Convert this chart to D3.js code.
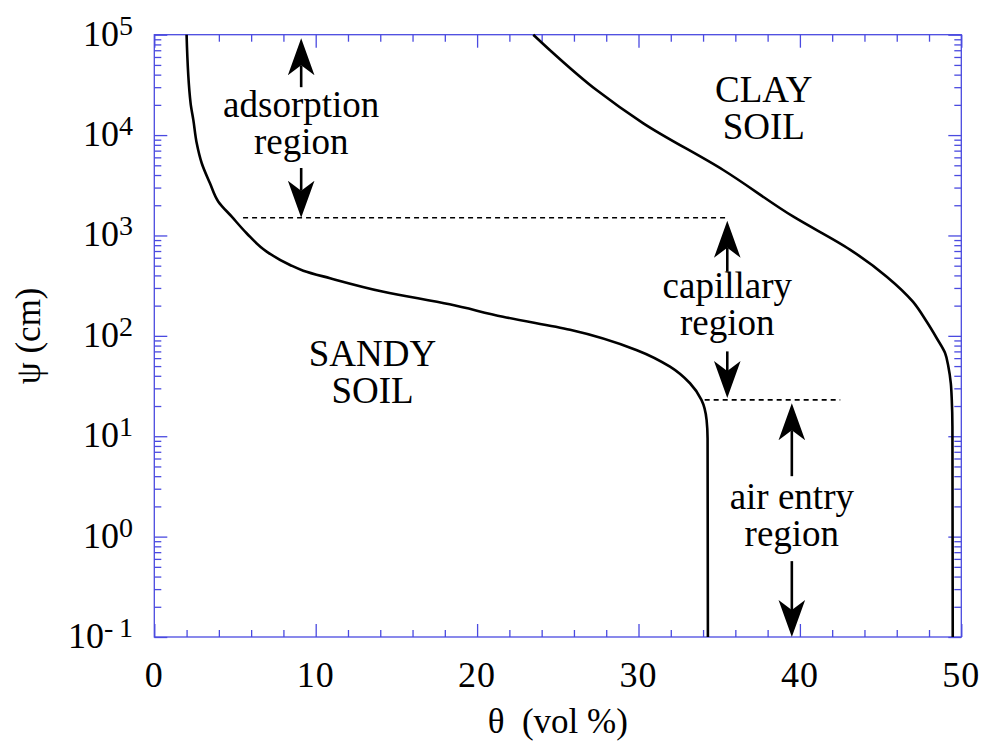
<!DOCTYPE html>
<html><head><meta charset="utf-8">
<script src="https://cdn.jsdelivr.net/npm/d3@7"></script>
<style>
body{margin:0;background:#fff}
</style>
</head><body>
<svg id="chart" width="985" height="745"></svg>
<script>
// ---- data ----
const sandyTheta = [2.0, 2.25, 2.42, 2.63, 2.94, 3.45, 3.97, 4.8, 5.72, 6.96, 8.41, 9.23, 10.89, 14.2, 18.3, 21.6, 25.76, 29.9, 31.95, 33.19, 33.9, 34.22, 34.28, 34.3];
const sandyPsi   = [1e5, 20700, 14100, 8280, 5240, 3310, 2172, 1538, 1052, 690, 508, 446, 375, 275, 206, 155, 115, 72, 49.3, 33.7, 23, 14.5, 9.5, 0.1];
const clayTheta  = [23.48, 24.5, 27.4, 30.3, 35.25, 39.6, 43.1, 45.38, 47.0, 47.86, 48.48, 49.0, 49.2, 49.35, 49.41, 49.45, 49.47];
const clayPsi    = [1e5, 70500, 28100, 13100, 4490, 1538, 724, 389, 219, 138, 94.6, 67.1, 49.3, 33.7, 23, 12.5, 0.1];

const xTickValues = [0, 10, 20, 30, 40, 50];
const yTickExponents = [-1, 0, 1, 2, 3, 4, 5];

// dashed region boundaries
const dashPsi  = [1500, 23];
const dashFrom = [5.5, 34.1];
const dashTo   = [35.5, 42.5];

// arrows (theta, tail psi, tip psi)
const arrowTheta = [9.1, 9.1, 35.5, 35.5, 39.5, 39.5];
const arrowTail  = [30000, 4700, 435, 70, 4.0, 0.57];
const arrowTip   = [92000, 1500, 1400, 24, 21.3, 0.1];

// annotation texts
const noteLines = [["adsorption", "region"], ["capillary", "region"], ["air entry", "region"], ["SANDY", "SOIL"], ["CLAY", "SOIL"]];
const noteTheta = [9.1, 35.5, 39.5, 13.52, 37.76];
const notePsi   = [15240, 237, 1.89, 50.1, 21500];

// ---- pick an installed serif font ----
function pickSerif() {
  const cands = ["Liberation Serif", "Times New Roman", "Tinos", "Times", "Nimbus Roman", "Nimbus Roman No9 L", "FreeSerif", "Noto Serif", "DejaVu Serif", "Bitstream Vera Serif"];
  const c = document.createElement("canvas").getContext("2d");
  const s = "adsorption SANDY 0123456789 region";
  const w = f => { c.font = "40px " + f; return c.measureText(s).width; };
  const wm = w("monospace"), ws = w("sans-serif");
  for (const f of cands) {
    const a = w(`"${f}", monospace`), b = w(`"${f}", sans-serif`);
    if (Math.abs(a - wm) > 0.5 && Math.abs(b - ws) > 0.5) return `"${f}", serif`;
  }
  return "serif";
}
const FONT = pickSerif();

// ---- chart ----
const svg = d3.select("#chart").attr("font-family", FONT).style("font-family", FONT);
const L = 154.3, R = 961.3, T = 34.7, B = 637;
const x = d3.scaleLinear().domain([0, 50]).range([L, R]);
const y = d3.scaleLog().domain([0.1, 1e5]).range([B, T]);
const blue = "#4a4ae0";

// frame
svg.append("rect").attr("x", L).attr("y", T).attr("width", R - L).attr("height", B - T)
  .attr("fill", "none").attr("stroke", blue).attr("stroke-width", 1.3);

// ticks via d3 axes
const xMinor = d3.range(0, 51, 2).filter(v => v % 10 !== 0);
const yMinor = [];
for (let e = -1; e < 5; e++) for (let m = 2; m <= 9; m++) yMinor.push(m * Math.pow(10, e));
const yMajor = yTickExponents.map(e => Math.pow(10, e));

function styleAxis(g) {
  g.select(".domain").remove();
  g.selectAll("line").attr("stroke", blue).attr("stroke-width", 1.3);
  g.selectAll("text").remove();
}
svg.append("g").attr("transform", `translate(0,${B})`).call(d3.axisBottom(x).tickValues(xTickValues).tickSize(-13).tickFormat("")).call(styleAxis);
svg.append("g").attr("transform", `translate(0,${B})`).call(d3.axisBottom(x).tickValues(xMinor).tickSize(-7).tickFormat("")).call(styleAxis);
svg.append("g").attr("transform", `translate(0,${T})`).call(d3.axisTop(x).tickValues(xTickValues).tickSize(-13).tickFormat("")).call(styleAxis);
svg.append("g").attr("transform", `translate(0,${T})`).call(d3.axisTop(x).tickValues(xMinor).tickSize(-7).tickFormat("")).call(styleAxis);
svg.append("g").attr("transform", `translate(${L},0)`).call(d3.axisLeft(y).tickValues(yMajor).tickSize(-13).tickFormat("")).call(styleAxis);
svg.append("g").attr("transform", `translate(${L},0)`).call(d3.axisLeft(y).tickValues(yMinor).tickSize(-7).tickFormat("")).call(styleAxis);
svg.append("g").attr("transform", `translate(${R},0)`).call(d3.axisRight(y).tickValues(yMajor).tickSize(-13).tickFormat("")).call(styleAxis);
svg.append("g").attr("transform", `translate(${R},0)`).call(d3.axisRight(y).tickValues(yMinor).tickSize(-7).tickFormat("")).call(styleAxis);

// tick labels
svg.append("g").selectAll("text").data(xTickValues).join("text")
  .attr("x", d => x(d)).attr("y", 687).attr("text-anchor", "middle")
  .attr("font-size", 36).style("letter-spacing", "1px").text(d => d);

const yl = svg.append("g").selectAll("text").data(yTickExponents).join("text")
  .attr("x", 133).attr("y", d => y(Math.pow(10, d)) + 11).attr("text-anchor", "end")
  .attr("font-size", 36);
yl.append("tspan").text("10");
yl.append("tspan").attr("font-size", 28).attr("dy", -11).text(d => d < 0 ? "-\u2009" + (-d) : String(d));

// axis titles
svg.append("text").attr("x", (L + R) / 2).attr("y", 733).attr("text-anchor", "middle")
  .attr("font-size", 35).style("white-space", "pre").text("\u03B8  (vol %)");
svg.append("text").attr("transform", `translate(40,${(T + B) / 2}) rotate(-90)`).attr("text-anchor", "middle")
  .attr("font-size", 35).style("white-space", "pre").text("\u03C8 (cm)");

// curves
const line = d3.line().x(d => x(d[0])).y(d => y(d[1])).curve(d3.curveMonotoneY);
svg.append("path").datum(sandyTheta.map((t, i) => [t, sandyPsi[i]]))
  .attr("d", line).attr("fill", "none").attr("stroke", "#000").attr("stroke-width", 2.6);
svg.append("path").datum(clayTheta.map((t, i) => [t, clayPsi[i]]))
  .attr("d", line).attr("fill", "none").attr("stroke", "#000").attr("stroke-width", 2.6);

// dashed lines
svg.append("g").selectAll("line").data(dashPsi).join("line")
  .attr("x1", (d, i) => x(dashFrom[i])).attr("x2", (d, i) => x(dashTo[i]))
  .attr("y1", d => y(d)).attr("y2", d => y(d))
  .attr("stroke", "#000").attr("stroke-width", 1.6).attr("stroke-dasharray", "5,4");

// arrows
const ag = svg.append("g");
arrowTheta.forEach((t, i) => {
  const xp = x(t), y0 = y(arrowTail[i]), y1 = y(arrowTip[i]);
  const dir = y1 < y0 ? 1 : -1; // 1 = pointing up
  ag.append("line").attr("x1", xp).attr("x2", xp).attr("y1", y0).attr("y2", y1 + dir * 27)
    .attr("stroke", "#000").attr("stroke-width", 2.6);
  ag.append("path")
    .attr("d", `M${xp},${y1} L${xp - 13.3},${y1 + dir * 37} L${xp},${y1 + dir * 27} L${xp + 13.3},${y1 + dir * 37} Z`)
    .attr("fill", "#000");
});

// annotations
noteLines.forEach((lines, i) => {
  const t = svg.append("text").attr("text-anchor", "middle").attr("font-size", 37);
  lines.forEach((s, j) => {
    t.append("tspan").attr("x", x(noteTheta[i])).attr("y", y(notePsi[i]) + j * 37).text(s);
  });
});
</script>
</body></html>
